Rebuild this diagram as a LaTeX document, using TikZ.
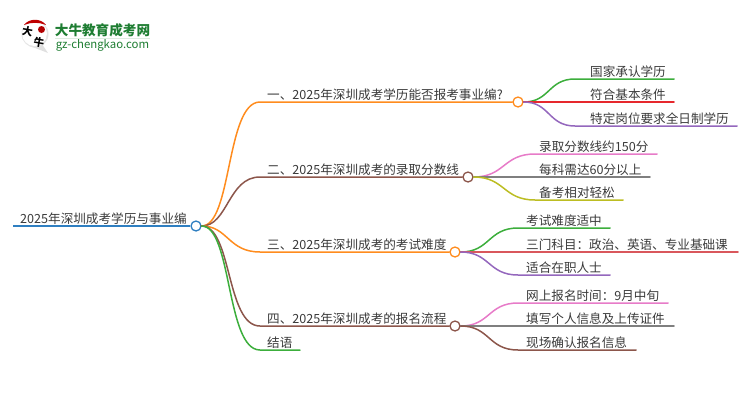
\documentclass[tikz,border=0pt]{standalone}
\usepackage{fontspec}
\setmainfont{Noto Sans CJK SC}
\newfontfamily\logofont{Noto Sans CJK SC}
\definecolor{cblue}{HTML}{2F7FC1}
\definecolor{corange}{HTML}{FF8C1E}
\definecolor{cbrown}{HTML}{8C564B}
\definecolor{cgreen}{HTML}{3CAE3C}
\definecolor{cred}{HTML}{E6282D}
\definecolor{cpurple}{HTML}{9467BD}
\definecolor{cpink}{HTML}{E77BC8}
\definecolor{cgrey}{HTML}{7F7F7F}
\definecolor{cyellow}{HTML}{BCBD22}
\definecolor{cdull}{HTML}{D9575C}
\definecolor{ctext}{HTML}{3A3A3A}
\definecolor{clogo}{HTML}{1E7D32}
\tikzset{
  lbl/.style={anchor=south west,inner xsep=0pt,inner ysep=1.5pt,text=ctext,font=\fontsize{12.6}{14}\selectfont},
  hub/.style={circle,draw=#1,fill=white,line width=1.3pt,minimum size=10pt,inner sep=0pt},
  twig/.style={draw=#1,line width=1.5pt,line cap=round},
}
\begin{document}
\begin{tikzpicture}[x=1pt,y=-1pt]
\useasboundingbox (0,0) rectangle (750,410);
% logo
\fill[black!12] (30,46) -- (48,53) -- (42,44) -- cycle;
\fill[black!10] (35,34) circle (13.5);
\fill[white] (34.5,33.5) circle (12.5);
\fill[red!75!black] (24,25) .. controls (29,18) and (41,18) .. (46,25) .. controls (39,22) and (31,22) .. (24,25) -- cycle;
\fill[red!70!black] (41.5,29.5) circle (3.5);
\node[inner sep=0pt,rotate=-10,font=\bfseries\fontsize{10.5}{10.5}\selectfont,text=black] (logoa) at (27.5,31.5) {大};
\node[inner sep=0pt,rotate=-10,font=\bfseries\fontsize{10.5}{10.5}\selectfont,text=black] (logob) at (39,42) {牛};
\node[inner sep=0pt,anchor=center,font=\logofont\bfseries\fontsize{13.6}{14}\selectfont,text=clogo] (logot) at (102.5,30) {大牛教育成考网};
\node[inner sep=0pt,anchor=center,font=\fontsize{11.4}{12}\selectfont,text=clogo] (logou) at (102.5,45) {gz-chengkao.com};
\draw[clogo!15,line width=.8pt] (55,38.5) -- (150,38.5);
% hubs
\node[hub=cblue] (h0) at (196,226) {};
\node[hub=corange] (h1) at (518,102) {};
\node[hub=cbrown] (h2) at (468,177) {};
\node[hub=corange] (h3) at (455,252) {};
\node[hub=cbrown] (h4) at (455,326) {};
\coordinate (r0) at (13,226);
\coordinate (k1) at (260,102);
\coordinate (k2) at (260,177);
\coordinate (k3) at (260,252);
\coordinate (k4) at (260,326);
\coordinate (k5) at (260,350);
\coordinate (e5) at (300,350);
\draw[twig=cblue,line width=2pt,line cap=butt] (r0) -- (h0.west);
\draw[twig=corange] (h0.east) .. controls (232,226) and (226,102) .. (k1) -- (h1.west);
\draw[twig=cbrown] (h0.east) .. controls (228,226) and (228,177) .. (k2) -- (h2.west);
\draw[twig=corange] (h0.east) .. controls (228,226) and (228,252) .. (k3) -- (h3.west);
\draw[twig=cbrown] (h0.east) .. controls (232,226) and (226,326) .. (k4) -- (h4.west);
\draw[twig=cgreen] (h0.east) .. controls (232,226) and (226,350) .. (k5) -- (e5);
% level 2 ends
\coordinate (a1) at (575,79);  \coordinate (a1e) at (674,79);
\coordinate (a2) at (575,102); \coordinate (a2e) at (674,102);
\coordinate (a3) at (575,126); \coordinate (a3e) at (737,126);
\coordinate (b1) at (535,154); \coordinate (b1e) at (657,154);
\coordinate (b2) at (535,177); \coordinate (b2e) at (650,177);
\coordinate (b3) at (535,200); \coordinate (b3e) at (623,200);
\coordinate (c1) at (518,228); \coordinate (c1e) at (610,228);
\coordinate (c2) at (518,252); \coordinate (c2e) at (738,252);
\coordinate (c3) at (518,275); \coordinate (c3e) at (610,275);
\coordinate (d1) at (518,303); \coordinate (d1e) at (668,303);
\coordinate (d2) at (518,326); \coordinate (d2e) at (674,326);
\coordinate (d3) at (518,350); \coordinate (d3e) at (636,350);
\draw[twig=cgreen] (h1.east) .. controls (550,102) and (548,79) .. (a1) -- (a1e);
\draw[twig=cred] (h1.east) -- (a2) -- (a2e);
\draw[twig=cpurple] (h1.east) .. controls (550,102) and (548,126) .. (a3) -- (a3e);
\draw[twig=cpink] (h2.east) .. controls (505,177) and (503,154) .. (b1) -- (b1e);
\draw[twig=cgrey] (h2.east) -- (b2) -- (b2e);
\draw[twig=cyellow] (h2.east) .. controls (505,177) and (503,200) .. (b3) -- (b3e);
\draw[twig=cgreen] (h3.east) .. controls (490,252) and (488,228) .. (c1) -- (c1e);
\draw[twig=cdull] (h3.east) -- (c2) -- (c2e);
\draw[twig=cpurple] (h3.east) .. controls (490,252) and (488,275) .. (c3) -- (c3e);
\draw[twig=cpink] (h4.east) .. controls (490,326) and (488,303) .. (d1) -- (d1e);
\draw[twig=cgrey] (h4.east) -- (d2) -- (d2e);
\draw[twig=cbrown] (h4.east) .. controls (490,326) and (488,350) .. (d3) -- (d3e);
% labels
\node[lbl] (t0) at (20,226) {2025年深圳成考学历与事业编};
\node[lbl] (t1) at (267,102) {一、2025年深圳成考学历能否报考事业编?};
\node[lbl] (t2) at (267,177) {二、2025年深圳成考的录取分数线};
\node[lbl] (t3) at (267,252) {三、2025年深圳成考的考试难度};
\node[lbl] (t4) at (267,326) {四、2025年深圳成考的报名流程};
\node[lbl] (t5) at (267,350) {结语};
\node[lbl] (ta1) at (590,79) {国家承认学历};
\node[lbl] (ta2) at (590,102) {符合基本条件};
\node[lbl] (ta3) at (590,126) {特定岗位要求全日制学历};
\node[lbl] (tb1) at (539,154) {录取分数线约150分};
\node[lbl] (tb2) at (539,177) {每科需达60分以上};
\node[lbl] (tb3) at (539,200) {备考相对轻松};
\node[lbl] (tc1) at (526,228) {考试难度适中};
\node[lbl] (tc2) at (526,252) {三门科目：政治、英语、专业基础课};
\node[lbl] (tc3) at (526,275) {适合在职人士};
\node[lbl] (td1) at (526,303) {网上报名时间：9月中旬};
\node[lbl] (td2) at (526,326) {填写个人信息及上传证件};
\node[lbl] (td3) at (526,350) {现场确认报名信息};
\end{tikzpicture}
\end{document}
